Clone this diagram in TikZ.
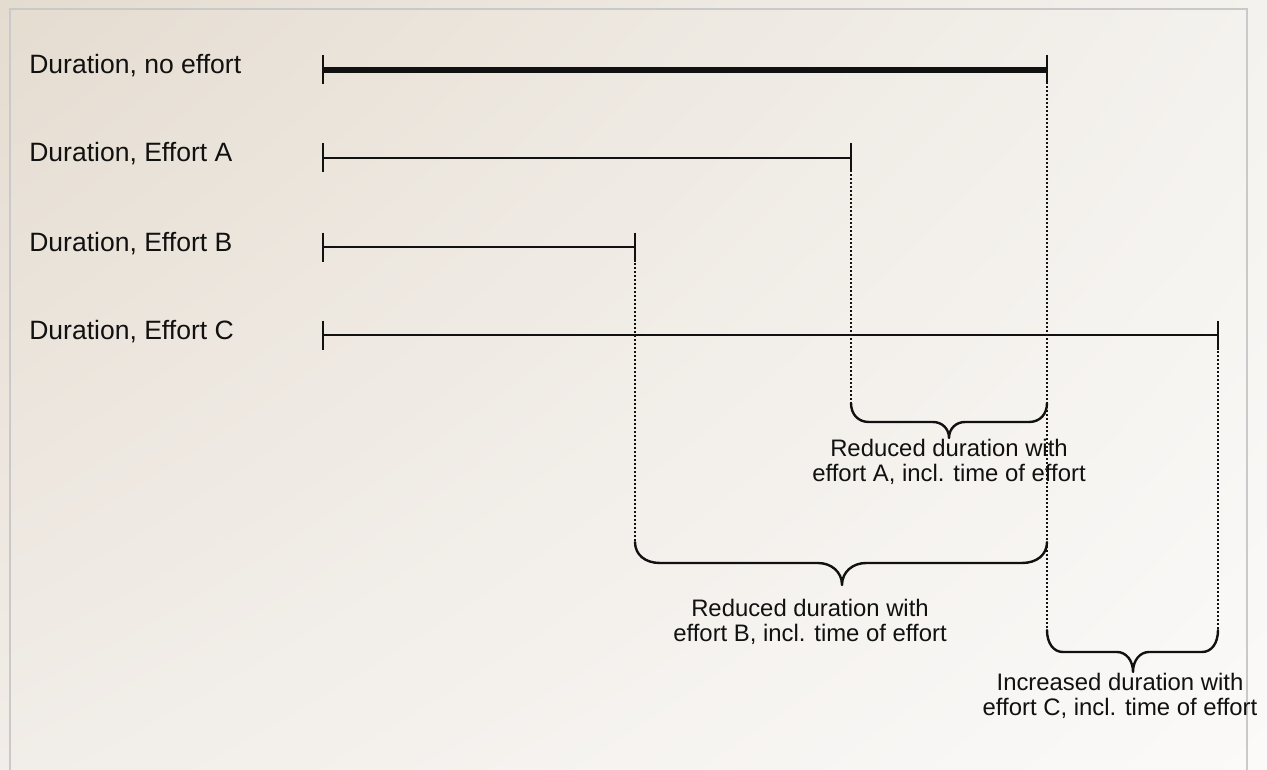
\documentclass[tikz,border=0pt]{standalone}
\usepackage{fontspec}
\setmainfont{Liberation Sans}
\usetikzlibrary{shadings}
\definecolor{bgUL}{HTML}{E5DCD0}
\definecolor{bgUR}{HTML}{F4F2EE}
\definecolor{bgLL}{HTML}{F1EDE8}
\definecolor{bgLR}{HTML}{FBFAF9}
\definecolor{framegray}{HTML}{C9C9C9}
\definecolor{ink}{HTML}{111111}
% curly brace: x-left, x-right, x-tip, y-top, y-middle, y-tip, hook radius, tip radius
\newcommand\durbrace[8]{%
  \draw[brace] (#1,#4) .. controls (#1,#4+0.6*#5-0.6*#4) and (#1+0.4*#7,#5) .. (#1+#7,#5)
    -- (#3-#8,#5) .. controls (#3-0.45*#8,#5) and (#3,#6-0.6*#6+0.6*#5) .. (#3,#6)
    .. controls (#3,#6-0.6*#6+0.6*#5) and (#3+0.45*#8,#5) .. (#3+#8,#5)
    -- (#2-#7,#5) .. controls (#2-0.4*#7,#5) and (#2,#4+0.6*#5-0.6*#4) .. (#2,#4);}
\begin{document}
\begin{tikzpicture}[x=0.75pt,y=-0.75pt,
  bar/.style={draw=ink,line width=1.6pt},
  mainbar/.style={draw=ink,line width=3.8pt},
  tick/.style={draw=ink,line width=1.9pt},
  guide/.style={draw=ink,line width=1.5pt,dash pattern=on 1.5pt off 1.5pt},
  brace/.style={draw=ink,line width=1.8pt,line join=round,line cap=round},
  rowlabel/.style={anchor=base west,inner sep=0pt,text=ink,font=\fontsize{19.9}{24}\selectfont},
  bracelabel/.style={anchor=base,align=center,inner sep=0pt,text=ink,font=\fontsize{17.9}{18.2}\selectfont}]
\useasboundingbox (0,0) rectangle (1267,770);
% backdrop and frame
\shade[upper left=bgUL,upper right=bgUR,lower left=bgLL,lower right=bgLR] (0,0) rectangle (1267,770);
\draw[framegray,line width=1.4pt] (10,790) -- (10,9) -- (1247,9) -- (1247,790);

% row labels
\node[rowlabel] (lN) at (29,74) {Duration, no effort};
\node[rowlabel] (lA) at (29,162) {Duration, Effort A};
\node[rowlabel] (lB) at (29,251) {Duration, Effort B};
\node[rowlabel] (lC) at (29,339) {Duration, Effort C};

% bar end points
\coordinate (n0) at (323,70);  \coordinate (n1) at (1047,70);
\coordinate (a0) at (323,158); \coordinate (a1) at (851,158);
\coordinate (b0) at (323,247); \coordinate (b1) at (635,247);
\coordinate (c0) at (323,335); \coordinate (c1) at (1218,335);

% brace end points
\coordinate (Aleft) at (851,403);  \coordinate (Aright) at (1047,403);
\coordinate (Bleft) at (635,542);  \coordinate (Bright) at (1047,542);
\coordinate (Cleft) at (1047,630); \coordinate (Cright) at (1218,630);

% dotted guides
\draw[guide] (a1) -- (Aleft);
\draw[guide] (b1) -- (Bleft);
\draw[guide] (n1) -- (Cleft);
\draw[guide] (c1) -- (Cright);

% duration bars
\draw[mainbar] (n0) -- (n1);
\draw[bar] (a0) -- (a1);
\draw[bar] (b0) -- (b1);
\draw[bar] (c0) -- (c1);
\foreach \p in {n0,n1,a0,a1,b0,b1,c0,c1}
  \draw[tick] (\p) ++(0,-14.5) -- ++(0,29);

% braces
\durbrace{851}{1047}{949}{403}{422}{438}{18}{16}
\durbrace{635}{1047}{842}{542}{563}{585}{25}{24}
\durbrace{1047}{1218}{1133}{630}{652}{672}{16}{16}

% brace labels (anchored at the baseline of the last line)
\node[bracelabel] (tA) at (949,481) {Reduced duration with\\effort A, incl. time of effort};
\node[bracelabel] (tB) at (810,641) {Reduced duration with\\effort B, incl. time of effort};
\node[bracelabel] (tC) at (1120,715) {Increased duration with\\effort C, incl. time of effort};
\end{tikzpicture}
\end{document}
